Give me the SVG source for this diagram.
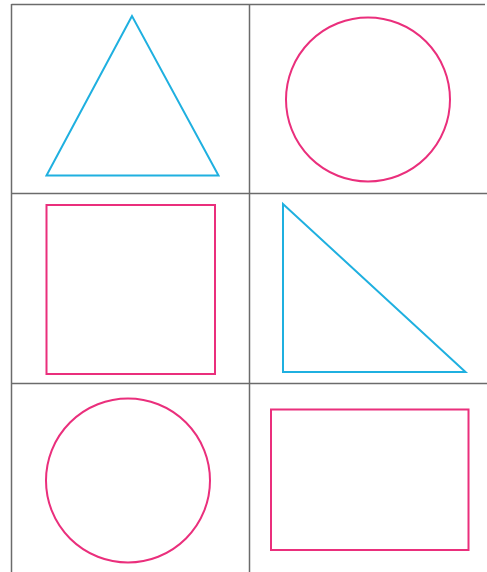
<svg xmlns="http://www.w3.org/2000/svg" width="487" height="572" viewBox="0 0 487 572">
<style>
.grid{stroke:#6b6b6b;stroke-width:1.5;fill:none}
.blue{stroke:#1fb0e0;stroke-width:2;fill:none;stroke-linejoin:miter}
.pink{stroke:#ea2f7c;stroke-width:2;fill:none}
</style>
<rect width="487" height="572" fill="#ffffff"/>
<g id="grid">
<line class="grid" x1="11.5" y1="4.5" x2="485" y2="4.5"/>
<line class="grid" x1="11.5" y1="4" x2="11.5" y2="572"/>
<line class="grid" x1="249.5" y1="4" x2="249.5" y2="572"/>
<line class="grid" x1="11" y1="193.5" x2="487" y2="193.5"/>
<line class="grid" x1="11" y1="383.5" x2="487" y2="383.5"/>
</g>
<g id="triangle-equilateral"><polygon class="blue" points="132,16 46.5,175.5 218.5,175.5"/></g>
<g id="circle-top"><circle class="pink" cx="368" cy="99.5" r="82"/></g>
<g id="square"><rect class="pink" x="46.5" y="205" width="168.5" height="169"/></g>
<g id="triangle-right"><polygon class="blue" points="283,204 283,372 465.5,372"/></g>
<g id="circle-bottom"><circle class="pink" cx="128" cy="480.5" r="82"/></g>
<g id="rectangle"><rect class="pink" x="271" y="409.5" width="197.5" height="140.5"/></g>
</svg>
